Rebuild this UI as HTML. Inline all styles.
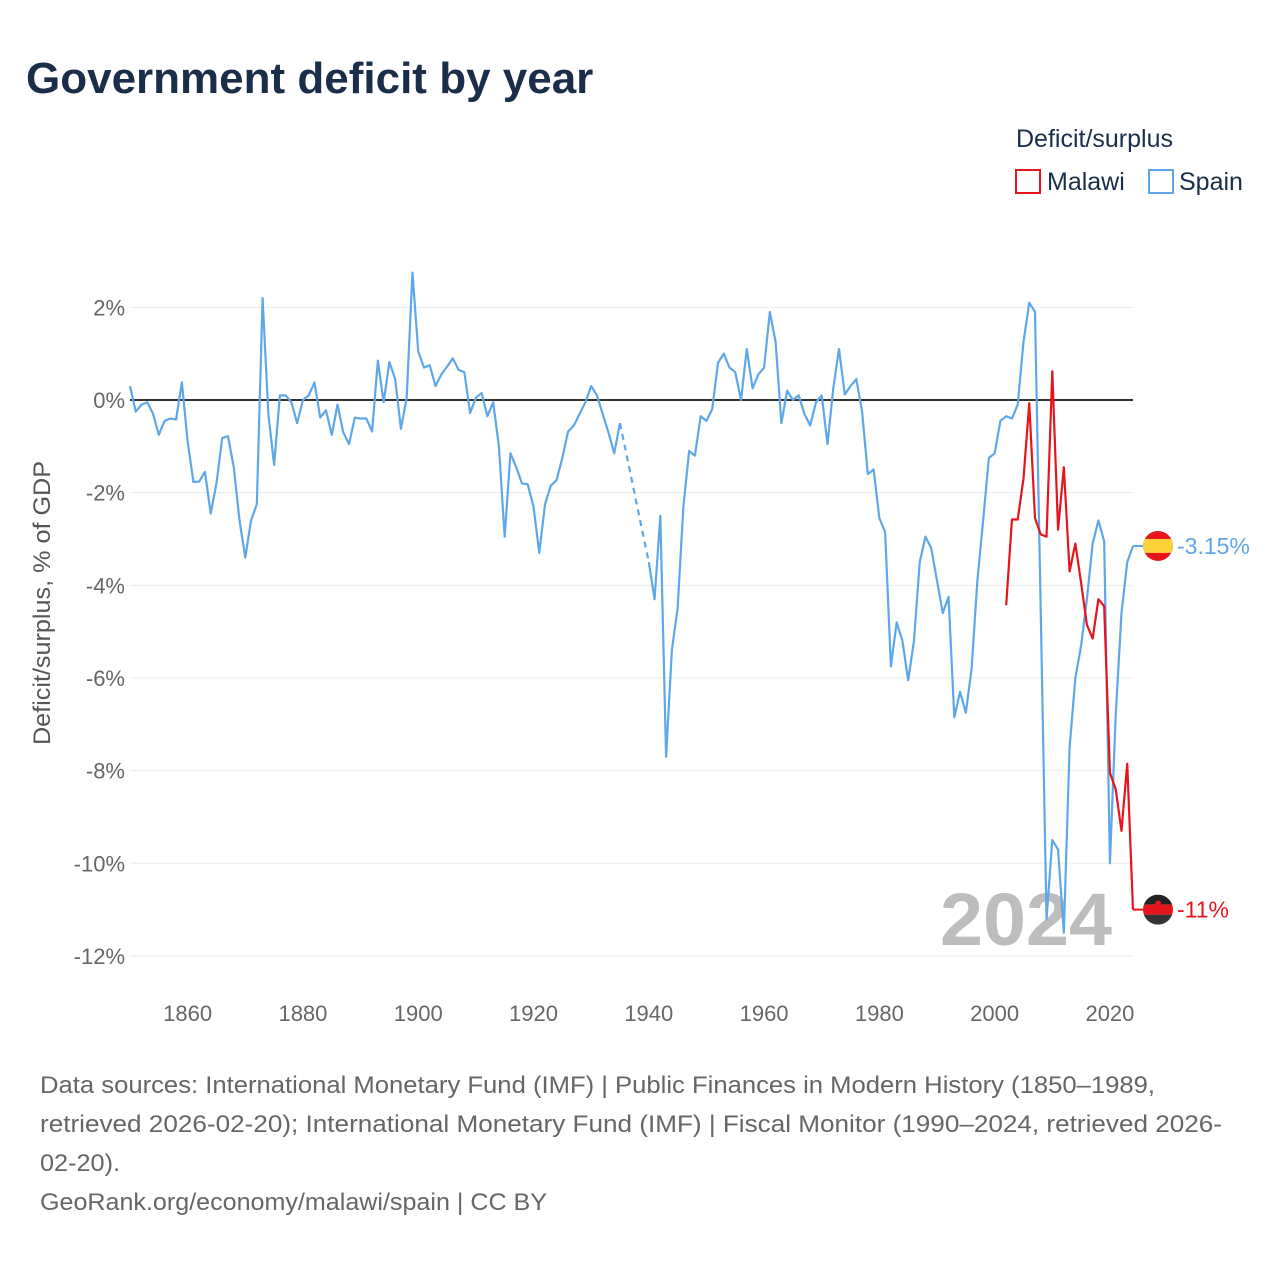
<!DOCTYPE html>
<html><head><meta charset="utf-8"><style>
html,body{margin:0;padding:0;background:#fff;width:1280px;height:1280px;overflow:hidden;font-family:"Liberation Sans",sans-serif;}
</style></head><body>
<svg id="chart" width="1280" height="1280" xmlns="http://www.w3.org/2000/svg">
<text x="26" y="93" font-size="44" font-weight="bold" fill="#1a2e4a">Government deficit by year</text>
<text x="1016" y="147" font-size="25" fill="#1a2e4a">Deficit/surplus</text>
<g><rect x="1016" y="170" width="24" height="23" fill="none" stroke="#e8141c" stroke-width="2"/><text x="1047" y="190" font-size="25" fill="#1a2e4a">Malawi</text></g>
<g><rect x="1149" y="170" width="24" height="23" fill="none" stroke="#5ea7e8" stroke-width="2"/><text x="1179" y="190" font-size="25" fill="#1a2e4a">Spain</text></g>
<g id="grid"></g><g id="yticks"></g><g id="xticks"></g>
<text x="940" y="945" font-size="74" font-weight="bold" fill="#bdbdbd" textLength="172" lengthAdjust="spacingAndGlyphs">2024</text>
<g id="series"></g>
<text transform="translate(50,603) rotate(-90)" text-anchor="middle" font-size="24" fill="#555" textLength="284" lengthAdjust="spacingAndGlyphs">Deficit/surplus, % of GDP</text>
<text x="40" y="1093" font-size="24" fill="#666" textLength="1115" lengthAdjust="spacingAndGlyphs">Data sources: International Monetary Fund (IMF) | Public Finances in Modern History (1850–1989,</text>
<text x="40" y="1132" font-size="24" fill="#666" textLength="1182" lengthAdjust="spacingAndGlyphs">retrieved 2026-02-20); International Monetary Fund (IMF) | Fiscal Monitor (1990–2024, retrieved 2026-</text>
<text x="40" y="1171" font-size="24" fill="#666" textLength="80" lengthAdjust="spacingAndGlyphs">02-20).</text>
<text x="40" y="1210" font-size="24" fill="#666" textLength="507" lengthAdjust="spacingAndGlyphs">GeoRank.org/economy/malawi/spain | CC BY</text>
</svg>
<script>
const yTicks=[2,0,-2,-4,-6,-8,-10,-12];
const xTicks=[1860,1880,1900,1920,1940,1960,1980,2000,2020];
const spainStart=1850;
const spainVals=[0.3,-0.25,-0.1,-0.05,-0.3,-0.75,-0.45,-0.4,-0.42,0.38,-0.9,-1.77,-1.76,-1.55,-2.45,-1.8,-0.82,-0.78,-1.45,-2.6,-3.4,-2.6,-2.25,2.2,-0.3,-1.4,0.1,0.1,-0.05,-0.5,0.0,0.1,0.38,-0.38,-0.22,-0.75,-0.1,-0.7,-0.95,-0.38,-0.4,-0.4,-0.68,0.85,-0.05,0.82,0.45,-0.62,0.05,2.75,1.05,0.7,0.75,0.3,0.55,0.72,0.9,0.65,0.6,-0.28,0.05,0.15,-0.35,-0.05,-1.0,-2.95,-1.15,-1.45,-1.8,-1.82,-2.3,-3.3,-2.25,-1.85,-1.73,-1.25,-0.68,-0.55,-0.3,-0.05,0.3,0.1,-0.3,-0.7,-1.15,-0.5,null,null,null,null,-3.5,-4.3,-2.5,-7.7,-5.4,-4.5,-2.3,-1.1,-1.2,-0.35,-0.45,-0.2,0.8,1.0,0.7,0.6,0.0,1.1,0.25,0.55,0.7,1.9,1.25,-0.5,0.2,0.0,0.1,-0.3,-0.55,-0.05,0.1,-0.95,0.25,1.1,0.12,0.3,0.45,-0.25,-1.6,-1.5,-2.55,-2.85,-5.75,-4.8,-5.2,-6.05,-5.2,-3.5,-2.95,-3.2,-3.9,-4.6,-4.25,-6.85,-6.3,-6.75,-5.8,-3.9,-2.6,-1.25,-1.15,-0.45,-0.35,-0.4,-0.1,1.25,2.1,1.9,-4.6,-11.2,-9.5,-9.7,-11.5,-7.5,-6.0,-5.3,-4.3,-3.1,-2.6,-3.05,-10.0,-6.8,-4.6,-3.5,-3.15];
const malawiStart=2002;
const malawiVals=[-4.43,-2.58,-2.58,-1.7,-0.07,-2.55,-2.9,-2.95,0.62,-2.8,-1.45,-3.7,-3.1,-3.95,-4.85,-5.15,-4.3,-4.45,-8.05,-8.4,-9.3,-7.85,-11.0];
const NS='http://www.w3.org/2000/svg';
const X=yr=>130+(yr-1850)*(1133-130)/(2024-1850);
const Y=v=>400-v*46.33;
function mk(tag,attrs,parent){const e=document.createElementNS(NS,tag);for(const k in attrs)e.setAttribute(k,attrs[k]);document.getElementById(parent).appendChild(e);return e;}
yTicks.forEach(t=>{
 const l=mk('line',{x1:130,x2:1133,y1:Y(t),y2:Y(t),stroke:t===0?'#333':'#ebebeb','stroke-width':t===0?2:1},'grid');
 
 
 const tx=mk('text',{x:125,y:Y(t)+8,'text-anchor':'end','font-size':22,fill:'#666'},'yticks');
 tx.textContent=t+'%';
 
 
});
xTicks.forEach(t=>{
 const tx=mk('text',{x:X(t),y:1021,'text-anchor':'middle','font-size':22,fill:'#666'},'xticks');
 tx.textContent=t;
 
 
});
function draw(start,vals,color,name){
 let segs=[],cur=[],gaps=[],last=null;
 vals.forEach((v,i)=>{const yr=start+i;
  if(v===null){if(cur.length){segs.push(cur);cur=[];}}
  else{ if(!cur.length&&last)gaps.push([last,[yr,v]]); cur.push([yr,v]); last=[yr,v];}
 });
 if(cur.length)segs.push(cur);
 segs.forEach(s=>{
  const p=mk('polyline',{points:s.map(d=>X(d[0])+','+Y(d[1])).join(' '),fill:'none',stroke:color,'stroke-width':2.2,'stroke-linejoin':'round'},'series');
  
  
 });
 gaps.forEach(g=>{
  const p=mk('line',{x1:X(g[0][0]),y1:Y(g[0][1]),x2:X(g[1][0]),y2:Y(g[1][1]),stroke:color,'stroke-width':2.2,'stroke-dasharray':'6,5'},'series');
  
  
 });
 return vals[vals.length-1];
}
const sv=draw(spainStart,spainVals,'#5ea7e8','spain');
const mv=draw(malawiStart,malawiVals,'#e8141c','malawi');
function endLabel(v,color,name,flag){
 const y=Y(v);
 const c=mk('line',{x1:1133,x2:1150,y1:y,y2:y,stroke:color,'stroke-width':2},'series');
 
 
 const g=mk('g',{},'series');
 
 
 g.innerHTML=flag(y);
 const t=mk('text',{x:1177,y:y+8,'font-size':23,fill:color},'series');
 t.textContent=(Number.isInteger(v)?String(v):v.toFixed(2))+'%';
 
 
}
endLabel(sv,'#5ea7e8','spain',y=>`<clipPath id="cs"><circle cx="1158" cy="${y}" r="15"/></clipPath><g clip-path="url(#cs)"><rect x="1143" y="${y-15}" width="30" height="30" fill="#e8141c"/><rect x="1143" y="${y-7}" width="30" height="14" fill="#fcd23a"/></g>`);
endLabel(mv,'#e8141c','malawi',y=>`<clipPath id="cm"><circle cx="1158" cy="${y}" r="15"/></clipPath><g clip-path="url(#cm)"><rect x="1143" y="${y-15}" width="30" height="10" fill="#222"/><rect x="1143" y="${y-5}" width="30" height="10" fill="#e8141c"/><rect x="1143" y="${y+5}" width="30" height="10" fill="#333"/><circle cx="1158" cy="${y-6}" r="3" fill="#e8141c"/></g>`);
</script>
</body></html>
